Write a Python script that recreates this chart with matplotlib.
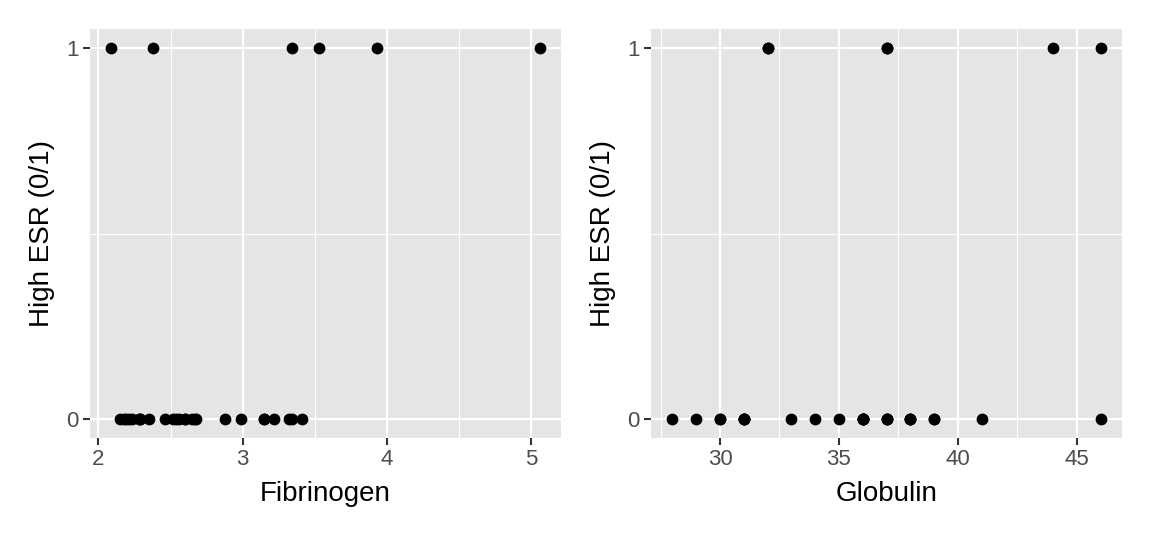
import numpy as np
import matplotlib
matplotlib.use("Agg")
import matplotlib.pyplot as plt

plt.rcParams['font.family'] = ['Liberation Sans', 'DejaVu Sans']

# plasma data: fibrinogen, globulin, ESR > 20 (1) or < 20 (0)
fibrinogen = [2.52, 2.56, 2.19, 2.18, 3.41, 2.46, 3.22, 2.21, 3.15, 2.60, 2.29,
              2.35, 5.06, 3.34, 2.38, 3.15, 3.53, 2.68, 2.60, 2.23, 2.88, 2.65,
              2.09, 2.28, 2.67, 2.29, 2.15, 2.54, 3.93, 3.34, 2.99, 3.32]
globulin = [38, 31, 33, 31, 37, 36, 38, 37, 39, 41, 36, 29, 37, 32, 37, 36,
            46, 34, 38, 37, 30, 46, 44, 36, 39, 31, 31, 28, 32, 30, 36, 35]
high_esr = [0, 0, 0, 0, 0, 0, 0, 0, 0, 0, 0, 0, 1, 1, 1, 0,
            1, 0, 0, 0, 0, 0, 1, 0, 0, 0, 0, 0, 1, 0, 0, 0]

panels = [
    (fibrinogen, "Fibrinogen", [2, 3, 4, 5], 0.5),
    (globulin, "Globulin", [30, 35, 40, 45], 2.5),
]

fig = plt.figure(figsize=(11.52, 5.37), dpi=100)
W, H = 1152, 537
boxes = [(90, 29, 561, 438), (651, 29, 1122, 438)]


def expand(v):
    lo, hi = min(v), max(v)
    d = (hi - lo) * 0.05
    return lo - d, hi + d


for (x, label, ticks, minor_off), (l, t, r, b) in zip(panels, boxes):
    ax = fig.add_axes([l / W, 1 - b / H, (r - l) / W, (b - t) / H])
    ax.set_facecolor("#E5E5E5")
    ax.set_xticks(ticks)
    ax.set_yticks([0, 1])
    minors = [ticks[0] - minor_off] + [tk + minor_off for tk in ticks]
    ax.set_xticks(minors, minor=True)
    ax.set_yticks([0.5], minor=True)
    ax.set_xlim(*expand(x))
    ax.set_ylim(-0.05, 1.05)
    ax.grid(True, which="major", color="white", linewidth=1.6)
    ax.grid(True, which="minor", color="white", linewidth=0.8)
    ax.set_axisbelow(True)
    for s in ax.spines.values():
        s.set_visible(False)
    ax.tick_params(which="major", length=5, width=1.5, color="#333333",
                   labelcolor="#4D4D4D", labelsize=16, pad=3)
    ax.tick_params(which="minor", length=0)
    ax.scatter(x, high_esr, s=72, color="black", zorder=3, linewidths=0)
    ax.set_xlabel(label, fontsize=20, labelpad=8)
    ax.set_ylabel("High ESR (0/1)", fontsize=20, labelpad=8)

fig.savefig("out.png", dpi=100)
